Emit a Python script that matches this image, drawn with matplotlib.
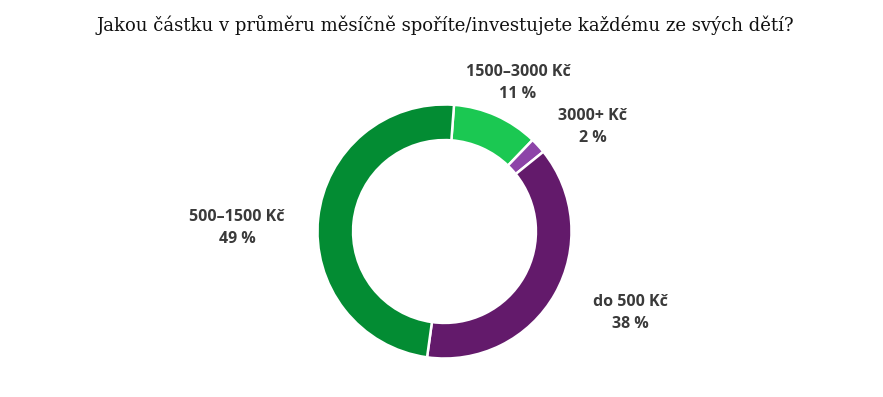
#!/usr/bin/env python3

# plot.py - donut chart of monthly savings per child

import matplotlib.pyplot as plt

categories = ['1500–3000 Kč', '3000+ Kč', 'do 500 Kč', '500–1500 Kč']
shares = [11, 2, 38, 49]
colors = ['#1bc852', '#8d44a8', '#631a6b', '#038c33']

TITLE = 'Jakou částku v průměru měsíčně spoříte/investujete každému ze svých dětí?'

W, H = 883, 397
CX, CY, R = 444.5, 231.5, 127.0

fig = plt.figure(figsize=(W / 100, H / 100), dpi=100)
ax = fig.add_axes([0, 0, 1, 1])

ax.pie(shares, colors=colors, startangle=85.7, counterclock=False,
       radius=1.0, wedgeprops=dict(width=0.28, edgecolor='white', linewidth=1.8))

# pie() rescales the view, so fix it afterwards (1 unit = R pixels)
ax.set_aspect('auto')
ax.set_xlim(-CX / R, (W - CX) / R)
ax.set_ylim(-(H - CY) / R, CY / R)
ax.axis('off')

# label spots in pie radius units
label_pos = [(0.579, 1.169), (1.169, 0.819), (1.461, -0.642), (-1.634, 0.028)]
for name, val, (x, y) in zip(categories, shares, label_pos):
    ax.text(x, y, f'{name}\n{val} %', ha='center', va='center',
            family='Open Sans', fontweight='bold', fontstretch='normal',
            fontsize=11.5, color='#3a3a3a', linespacing=1.5)

fig.text(445 / W, 1 - 25 / H, TITLE, ha='center', va='center',
         family='DejaVu Serif', fontsize=13, color='#111111')

fig.savefig('out.png', dpi=100)
